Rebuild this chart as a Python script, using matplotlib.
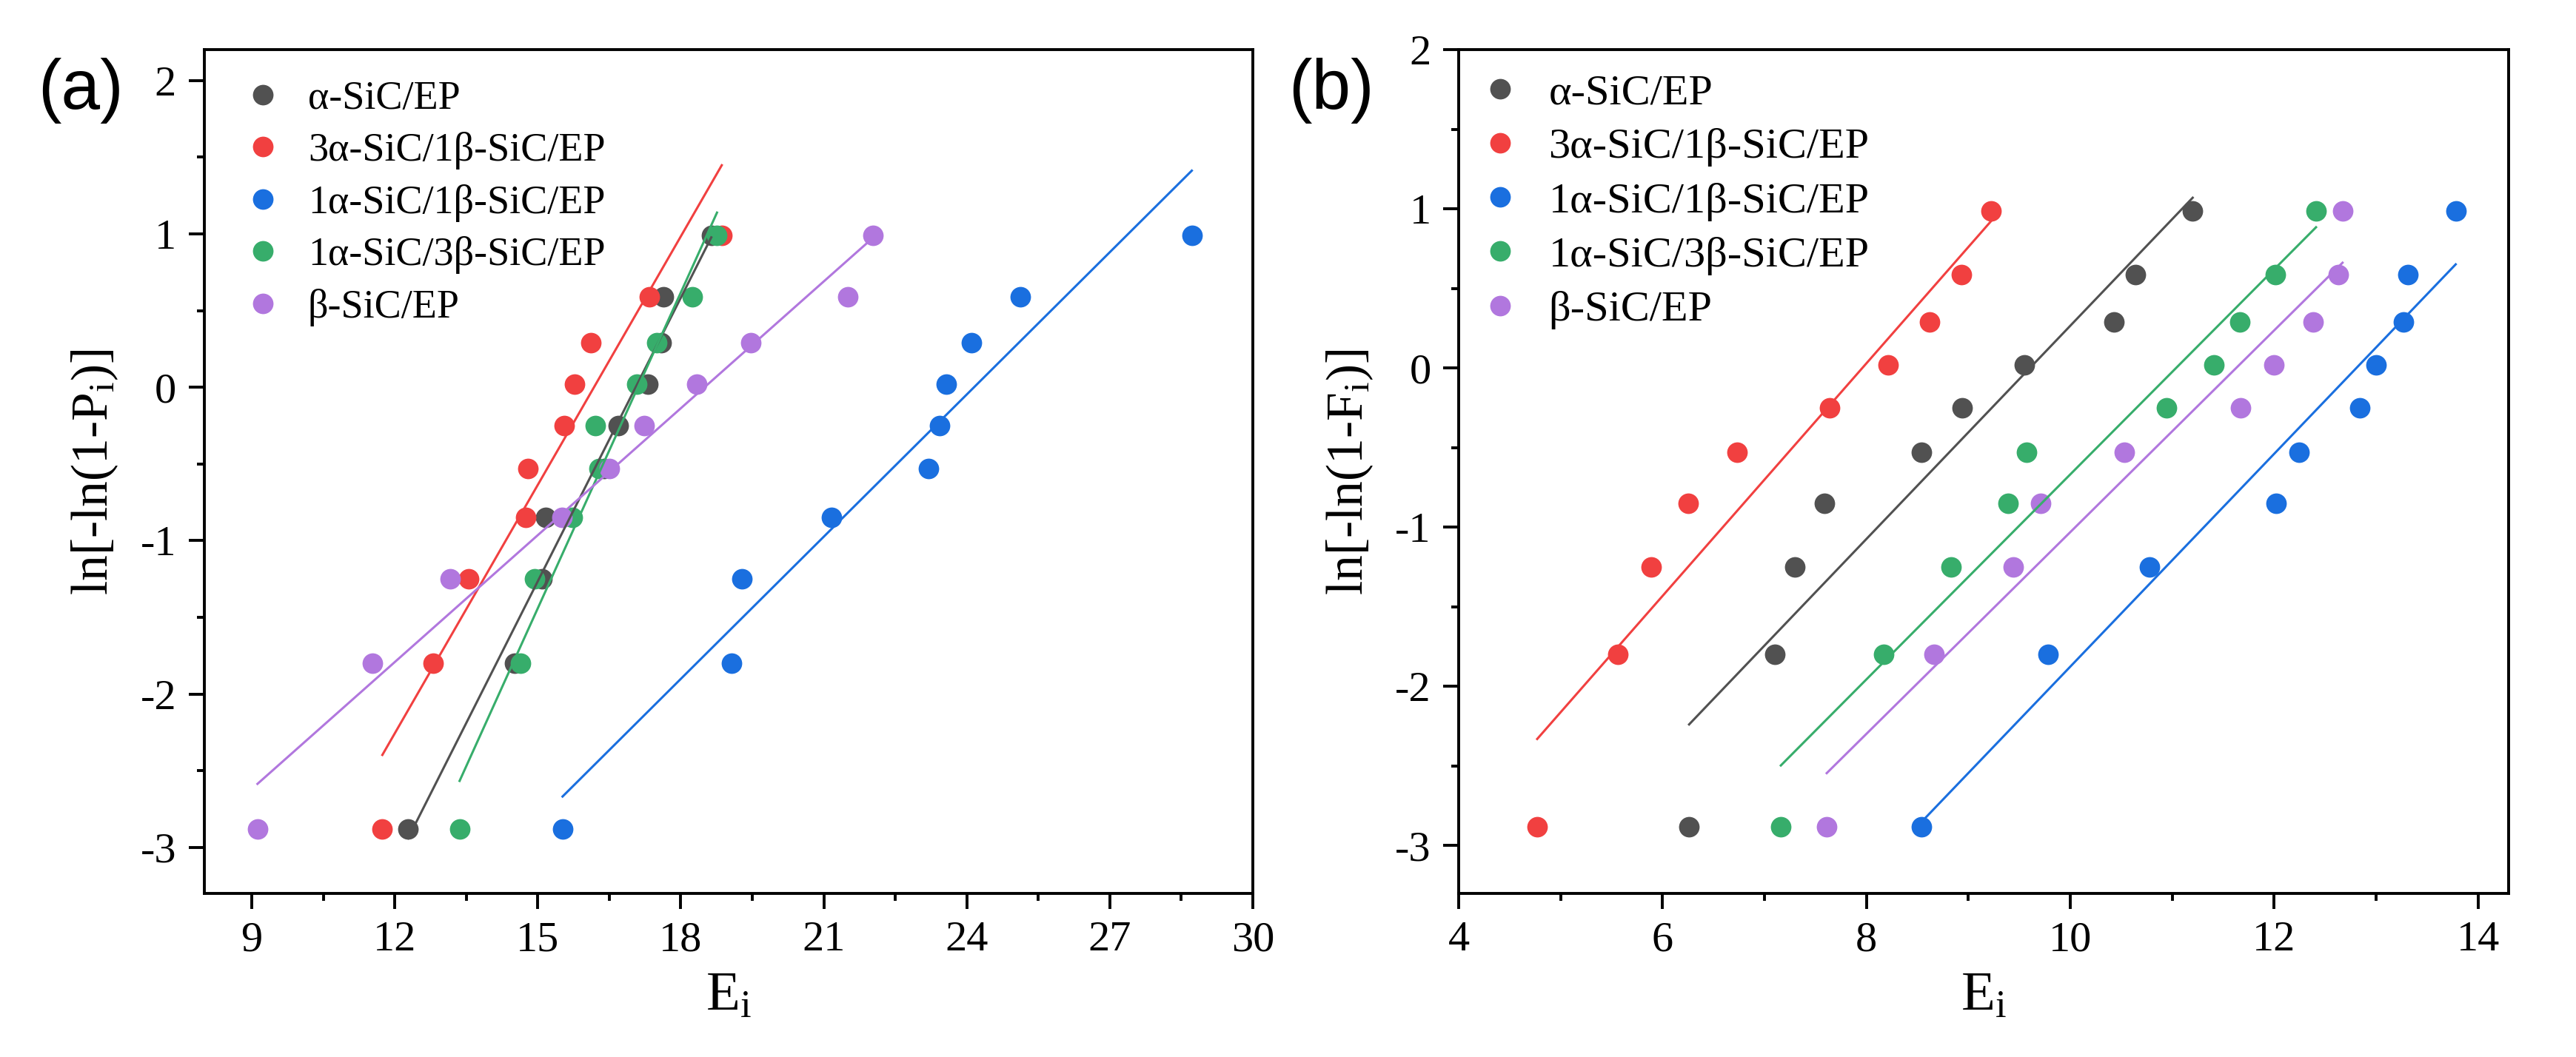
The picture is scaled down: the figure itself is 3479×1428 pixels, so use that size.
import numpy as np
import matplotlib
matplotlib.use('Agg')
from matplotlib import pyplot as plt
from matplotlib.ticker import MultipleLocator

plt.rcParams['font.family'] = ['Liberation Serif', 'DejaVu Serif']
plt.rcParams['mathtext.fontset'] = 'custom'
plt.rcParams['mathtext.rm'] = 'Liberation Serif'
plt.rcParams['mathtext.it'] = 'Liberation Serif'
plt.rcParams['axes.unicode_minus'] = False

# Weibull ordinate, shared by every series (10 specimens each)
ln_y = [-2.88, -1.80, -1.25, -0.85, -0.53, -0.25, 0.02, 0.29, 0.59, 0.99]

labels = ['α-SiC/EP', '3α-SiC/1β-SiC/EP', '1α-SiC/1β-SiC/EP',
          '1α-SiC/3β-SiC/EP', 'β-SiC/EP']
colors = ['#515151', '#F14040', '#1A6FDF', '#37AD6B', '#B177DE']

# (a) values
a_alpha = [12.28, 14.52, 15.09, 15.17, 16.40, 16.69, 17.31, 17.59, 17.64, 18.64]
a_3a1b = [11.74, 12.81, 13.55, 14.74, 14.80, 15.55, 15.78, 16.12, 17.34, 18.86]
a_1a1b = [15.52, 19.07, 19.29, 21.16, 23.19, 23.43, 23.57, 24.10, 25.12, 28.72]
a_1a3b = [13.36, 14.64, 14.93, 15.73, 16.29, 16.21, 17.08, 17.50, 18.24, 18.76]
a_beta = [9.12, 11.53, 13.16, 15.51, 16.51, 17.24, 18.34, 19.47, 21.50, 22.03]

# (b) values
b_alpha = [6.26, 7.10, 7.30, 7.59, 8.54, 8.94, 9.55, 10.43, 10.64, 11.20]
b_3a1b = [4.77, 5.56, 5.89, 6.25, 6.73, 7.64, 8.21, 8.62, 8.93, 9.22]
b_1a1b = [8.54, 9.78, 10.78, 12.02, 12.24, 12.84, 13.00, 13.27, 13.31, 13.78]
b_1a3b = [7.16, 8.17, 8.83, 9.39, 9.57, 10.94, 11.41, 11.66, 12.01, 12.41]
b_beta = [7.61, 8.66, 9.44, 9.71, 10.53, 11.67, 12.00, 12.38, 12.63, 12.67]


def draw_panel(ax, series, ylabel, xlim, xmajor, leg_anchor, leg_fs, leg_sp):
    for xs, c, lab in zip(series, colors, labels):
        xs = np.array(xs)
        ax.plot(xs, ln_y, 'o', color=c, markersize=10, markeredgewidth=0,
                label=lab, zorder=2)
        # linear fit over the data range
        k, b = np.polyfit(xs, ln_y, 1)
        xx = np.array([xs.min(), xs.max()])
        ax.plot(xx, k * xx + b, '-', color=c, lw=1.1, zorder=3)

    ax.set_xlim(xlim)
    ax.xaxis.set_major_locator(MultipleLocator(xmajor))
    ax.xaxis.set_minor_locator(MultipleLocator(xmajor / 2))
    ax.yaxis.set_major_locator(MultipleLocator(1))
    ax.yaxis.set_minor_locator(MultipleLocator(0.5))
    ax.tick_params(which='both', direction='out', width=1.4, labelsize=21,
                   top=False, right=False)
    ax.tick_params(which='major', length=7.5, pad=6)
    ax.tick_params(which='minor', length=3.6)
    for sp in ax.spines.values():
        sp.set_linewidth(1.4)

    ax.set_xlabel(r'E$_\mathrm{i}$', fontsize=27, labelpad=6)
    ax.set_ylabel(ylabel, fontsize=25)
    ax.yaxis.set_label_coords(-0.08, 0.5)

    ax.legend(loc='upper left', bbox_to_anchor=leg_anchor, frameon=False,
              fontsize=leg_fs, borderaxespad=0, borderpad=0,
              handlelength=1.0, handletextpad=0.62, labelspacing=leg_sp)


fig = plt.figure(figsize=(17.4, 7.14), dpi=200)
ax1 = fig.add_axes([0.0792, 0.1548, 0.407, 0.798])
ax2 = fig.add_axes([0.5661, 0.1548, 0.4075, 0.798])

draw_panel(ax1, [a_alpha, a_3a1b, a_1a1b, a_1a3b, a_beta],
           r'ln[-ln(1-P$_\mathrm{i}$)]', (8, 30), 3, (0.037, 0.964), 19.5, 0.36)
ax1.set_ylim(-3.3, 2.2)

draw_panel(ax2, [b_alpha, b_3a1b, b_1a1b, b_1a3b, b_beta],
           r'ln[-ln(1-F$_\mathrm{i}$)]', (4, 14.3), 2, (0.019, 0.972), 21, 0.35)
ax2.set_ylim(-3.3, 2)

fig.text(0.0147, 0.914, '(a)', fontsize=34, family='Liberation Sans', va='center')
fig.text(0.500, 0.914, '(b)', fontsize=34, family='Liberation Sans', va='center')

plt.savefig('out.png', dpi=200)
